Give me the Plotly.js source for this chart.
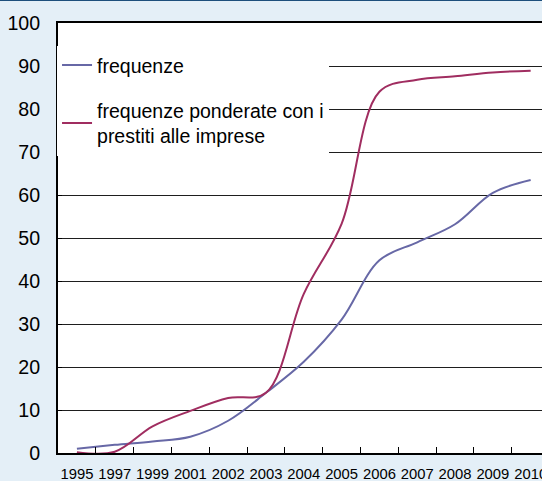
<!DOCTYPE html>
<html>
<head>
<meta charset="utf-8">
<script src="https://cdn.plot.ly/plotly-3.0.1.min.js"></script>
<style>
  html, body { margin: 0; padding: 0; background: #e4eff7; }
  #chart { width: 542px; height: 480px; border-top: 1px solid #1d4f7c; }
</style>
</head>
<body>
<div id="chart"></div>
<script>
// Categories (x axis)
const years = ["1995", "1997", "1999", "2001", "2002", "2003", "2004",
               "2005", "2006", "2007", "2008", "2009", "2010"];
// Series: frequenze
const frequenze = [1.0, 1.9, 2.7, 3.8, 7.5, 14.0, 21.2, 31.0, 44.8, 49.0, 53.2, 60.5, 63.5];
// Series: frequenze ponderate con i prestiti alle imprese
const ponderate = [0.2, 0.3, 6.2, 9.8, 12.8, 14.0, 37.0, 53.3, 84.0, 86.8, 87.6, 88.5, 88.9];
// Y tick values
const yTicks = [0, 10, 20, 30, 40, 50, 60, 70, 80, 90, 100];

const font = "Liberation Sans, Arial, sans-serif";

const traces = [
  {
    x: years, y: frequenze, type: "scatter", mode: "lines",
    name: "frequenze", legendgroup: "a",
    line: { color: "#6768a6", width: 2, shape: "spline", smoothing: 1 }
  },
  {
    x: years, y: ponderate, type: "scatter", mode: "lines",
    name: "frequenze ponderate con i<br>prestiti alle imprese", legendgroup: "b",
    line: { color: "#a02d60", width: 2, shape: "spline", smoothing: 1 }
  }
];

const layout = {
  width: 542, height: 480,
  margin: { l: 58, r: 0, t: 22, b: 28 },
  paper_bgcolor: "#e4eff7",
  plot_bgcolor: "#ffffff",
  font: { family: font, color: "#000000" },
  showlegend: true,
  legend: {
    x: -0.002, xanchor: "left", y: 0.947, yanchor: "top",
    bgcolor: "#ffffff", borderwidth: 0,
    font: { family: font, size: 19.5, color: "#000000" },
    tracegroupgap: 17, traceorder: "grouped",
    itemwidth: 30
  },
  xaxis: {
    type: "category", categoryarray: years,
    range: [-0.5, 12.3],
    showgrid: false, zeroline: false,
    showline: true, linecolor: "#000000", linewidth: 2, mirror: true,
    ticks: "inside", ticklen: 6, tickwidth: 1, tickcolor: "#000000",
    tickson: "boundaries",
    tickangle: 0,
    ticklabelstandoff: 6,
    tickfont: { family: font, size: 14.8, color: "#000000" },
    fixedrange: true
  },
  yaxis: {
    range: [0, 100],
    tickvals: yTicks, ticktext: yTicks.map(String),
    showgrid: true, gridcolor: "#1e1e1e", gridwidth: 1,
    zeroline: false,
    showline: true, linecolor: "#000000", linewidth: 2,
    ticks: "inside", ticklen: 4, tickcolor: "#000000",
    ticklabelstandoff: 12,
    tickfont: { family: font, size: 19.6, color: "#000000" },
    fixedrange: true
  }
};

Plotly.newPlot("chart", traces, layout, { staticPlot: true, displayModeBar: false });
</script>
</body>
</html>
